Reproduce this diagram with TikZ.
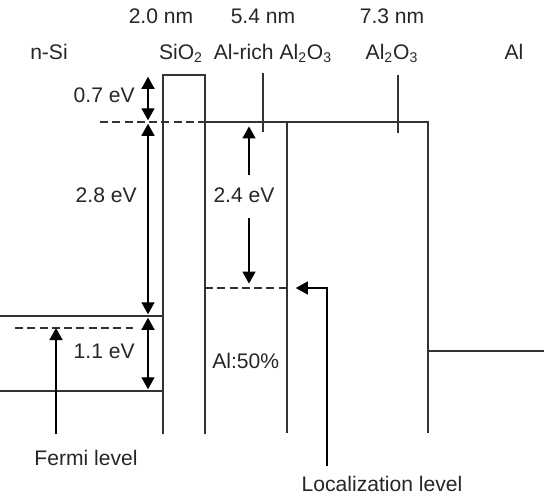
\documentclass[tikz,border=0pt]{standalone}
\usepackage{fontspec}
\setmainfont{Liberation Sans}
\usetikzlibrary{arrows.meta}

\begin{document}
\begin{tikzpicture}[x=0.02cm, y=-0.02cm,
  every node/.style={font=\fontsize{12}{14}\selectfont, text=black!85, inner sep=0pt},
  band/.style={draw=black!80, line width=0.8pt},
  lvl/.style={draw=black!80, line width=0.8pt, dash pattern=on 4.5pt off 2.5pt},
  gap/.style={{Triangle[length=2.4mm,width=2.6mm]}-{Triangle[length=2.4mm,width=2.6mm]},
              draw=black, line width=0.8pt, shorten <=1pt, shorten >=1pt},
  ptr/.style={-{Triangle[length=2.4mm,width=2.6mm]}, draw=black, line width=0.8pt}]

\useasboundingbox (0,0) rectangle (544,495);

% thickness and layer names
\node[anchor=base] (t1) at (161,23) {2.0 nm};
\node[anchor=base] (t2) at (263,23) {5.4 nm};
\node[anchor=base] (t3) at (392,23) {7.3 nm};
\node[anchor=base] (nsi)  at (49,59)  {n-Si};
\node[anchor=base] (sio)  at (181,59) {SiO\textsubscript{2}};
\node[anchor=base] (rich) at (273,59) {Al-rich Al\textsubscript{2}O\textsubscript{3}};
\node[anchor=base] (alo)  at (392,59) {Al\textsubscript{2}O\textsubscript{3}};
\node[anchor=base] (al)   at (514,59) {Al};

% band edges
\coordinate (cbL) at (0,316);   \coordinate (cbR) at (163,316);
\coordinate (vbL) at (0,391);   \coordinate (vbR) at (163,391);
\coordinate (efL) at (15,328);  \coordinate (efR) at (133,328);
\coordinate (oxBL) at (163,434); \coordinate (oxTL) at (163,75);
\coordinate (oxTR) at (205,75);  \coordinate (oxBR) at (205,434);
\coordinate (cbRef) at (100,122); \coordinate (riT) at (205,122);
\coordinate (bdT) at (287,122);  \coordinate (bdB) at (287,433);
\coordinate (aoT) at (428,122);  \coordinate (aoB) at (428,433);
\coordinate (mfL) at (428,351);  \coordinate (mfR) at (544,351);
\coordinate (locL) at (205,288); \coordinate (locR) at (287,288);

\draw[band] (cbL) -- (cbR);
\draw[band] (vbL) -- (vbR);
\draw[lvl]  (efL) -- (efR);
\draw[band] (oxBL) -- (oxTL) -- (oxTR) -- (oxBR);
\draw[lvl]  (cbRef) -- (riT);
\draw[band] (riT) -- (aoT) -- (aoB);
\draw[band] (bdT) -- (bdB);
\draw[band] (mfL) -- (mfR);
\draw[lvl]  (locL) -- (locR);

% leaders
\coordinate (ld1a) at (263,73);  \coordinate (ld1b) at (263,132);
\coordinate (ld2a) at (398,75);  \coordinate (ld2b) at (398,133);
\draw[band] (ld1a) -- (ld1b);
\draw[band] (ld2a) -- (ld2b);

% energies
\coordinate (e1) at (148,75);  \coordinate (e2) at (148,122);
\coordinate (e3) at (148,316); \coordinate (e4) at (148,391);
\draw[gap] (e1) -- (e2);
\draw[gap] (e2) -- (e3);
\draw[gap] (e3) -- (e4);
\node[anchor=base east] (v07) at (135,102) {0.7 eV};
\node[anchor=base east] (v28) at (137,202) {2.8 eV};
\node[anchor=base east] (v11) at (135,358) {1.1 eV};

\node[anchor=base] (v24) at (244,202) {2.4 eV};
\coordinate (g1) at (249,175); \coordinate (g2) at (249,122);
\coordinate (g3) at (249,218); \coordinate (g4) at (249,288);
\draw[ptr, shorten >=2.5pt] (g1) -- (g2);
\draw[ptr, shorten >=2.5pt] (g3) -- (g4);

\node[anchor=base west] (mix) at (212,368) {Al:50\%};

% pointers
\coordinate (fb) at (56,434); \coordinate (ft) at (56,328);
\draw[ptr] (fb) -- (ft);
\node[anchor=base] (fermi) at (86,465) {Fermi level};

\coordinate (lb) at (327,466);
\draw[ptr, shorten >=5pt] (lb) |- (locR);
\node[anchor=base] (loc) at (382,491) {Localization level};
\end{tikzpicture}
\end{document}
